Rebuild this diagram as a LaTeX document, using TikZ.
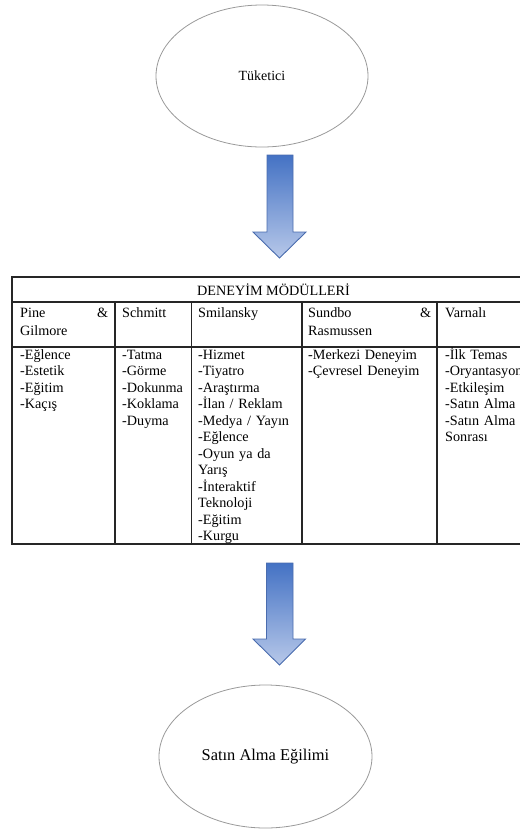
\documentclass[tikz,border=0pt]{standalone}
\usepackage{fontspec}
\setmainfont{Liberation Serif}
\usetikzlibrary{shapes.geometric}
\definecolor{arrowedge}{HTML}{4A6CAE}
\definecolor{arrowtop}{HTML}{4472C4}
\definecolor{arrowbot}{HTML}{B7C8E9}
\begin{document}
\begin{tikzpicture}[x=1pt,y=-1pt,
 oval/.style={ellipse, draw=black!40, line width=0.8pt, inner sep=0pt},
 blockarrow/.style={draw=arrowedge, line width=0.9pt, top color=arrowtop, bottom color=arrowbot},
 grid/.style={line width=1.1pt, draw=black!85},
 cell/.style={anchor=base west, inner sep=0pt, align=left, font=\fontsize{14.2}{16.5}\selectfont},
 head/.style={cell, font=\fontsize{14.2}{18}\selectfont}
]
\useasboundingbox (0,0) rectangle (520,831);
\clip (0,0) rectangle (520,831);

% top ellipse
\node[oval, minimum width=212pt, minimum height=142pt, font=\fontsize{14}{17}\selectfont] (cons) at (262,76) {Tüketici};

% arrow 1
\path[blockarrow] (267,155) -- (293,155) -- (293,232) -- (306,232) -- (279.5,258) -- (253,232) -- (267,232) -- cycle;

% table frame
\draw[grid] (12,277) rectangle (534,544);
\draw[grid] (12,302) -- (534,302);
\draw[grid] (12,347) -- (534,347);
\foreach \x in {115,191.5,302,437} \draw[grid] (\x,302) -- (\x,544);

\node[inner sep=0pt, font=\fontsize{14.2}{16}\selectfont] (title) at (273.5,290) {DENEYİM MÖDÜLLERİ};

% headers
\node[head, text width=88pt] (h1) at (20,317) {Pine\hfill\&\\Gilmore};
\node[head, text width=65pt] (h2) at (122,317) {Schmitt};
\node[head, text width=100pt] (h3) at (198,317) {Smilansky};
\node[head, text width=123pt] (h4) at (308,317) {Sundbo\hfill\&\\Rasmussen};
\node[head, text width=100pt] (h5) at (445,317) {Varnalı};

% bodies
\node[cell, text width=88pt] (b1) at (20,359) {-Eğlence\\-Estetik\\-Eğitim\\-Kaçış};
\node[cell, text width=65pt] (b2) at (122,359) {-Tatma\\-Görme\\-Dokunma\\-Koklama\\-Duyma};
\node[cell, text width=100pt] (b3) at (198,359) {-Hizmet\\-Tiyatro\\-Araştırma\\-İlan / Reklam\\-Medya / Yayın\\-Eğlence\\-Oyun ya da\\Yarış\\-İnteraktif\\Teknoloji\\-Eğitim\\-Kurgu};
\node[cell, text width=123pt] (b4) at (308,359) {-Merkezi Deneyim\\-Çevresel Deneyim};
\node[cell, text width=100pt] (b5) at (445,359) {-İlk Temas\\-Oryantasyon\\-Etkileşim\\-Satın Alma\\-Satın Alma\\Sonrası};

% arrow 2
\path[blockarrow] (266.5,563) -- (293,563) -- (293,639) -- (305.5,639) -- (279.5,665) -- (253,639) -- (266.5,639) -- cycle;

% bottom ellipse
\node[oval, minimum width=213pt, minimum height=143pt, font=\fontsize{16.4}{19}\selectfont] (buy) at (265.5,756.5) {Satın Alma Eğilimi};
\end{tikzpicture}
\end{document}
